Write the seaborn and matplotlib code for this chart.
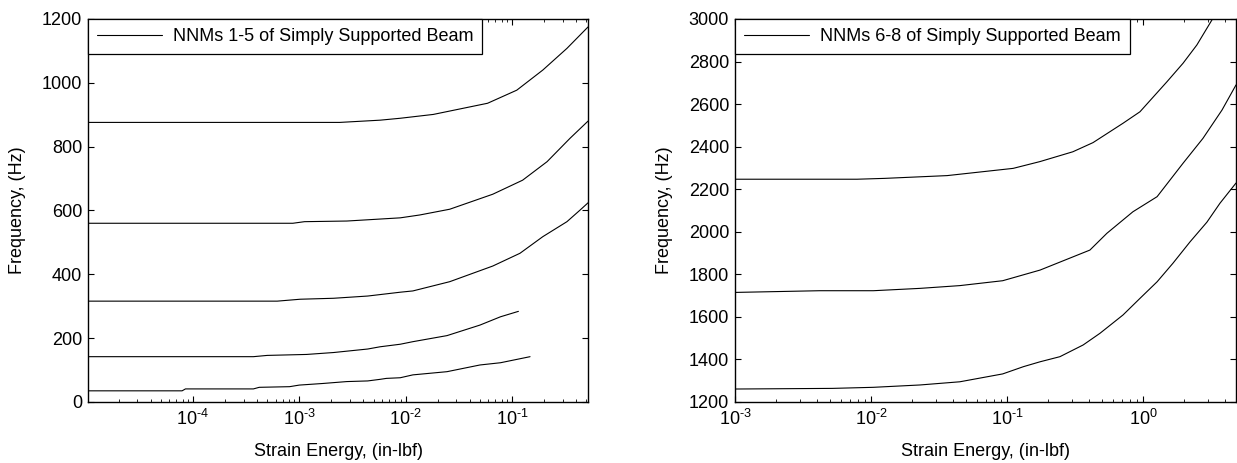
import math
import matplotlib
matplotlib.use("Agg")
import matplotlib.pyplot as plt
import seaborn as sns
from matplotlib.lines import Line2D
from matplotlib.ticker import LogLocator, MultipleLocator, NullFormatter, FuncFormatter

# ---------------- data ----------------
# Left panel: NNMs 1-5
e1 = [1.03e-5, 7.9e-5, 8.5e-5, 3.7e-4, 4.2e-4, 8.1e-4, 1.0e-3, 1.66e-3, 2.8e-3,
      4.4e-3, 5.75e-3, 6.6e-3, 8.9e-3, 1.17e-2, 2.45e-2, 5.0e-2, 7.8e-2, 0.148]
f1 = [35, 35, 41, 41, 46, 48, 53, 58, 64, 66, 71, 74, 76, 85, 95, 116, 123, 142]

e2 = [1.03e-5, 3.7e-4, 5.0e-4, 1.17e-3, 2.1e-3, 4.4e-3, 5.75e-3, 8.9e-3, 1.17e-2,
      2.45e-2, 5.0e-2, 7.8e-2, 0.115]
f2 = [142, 142, 146, 149, 155, 166, 173, 181, 189, 208, 241, 267, 284]

e3 = [1.03e-5, 6.2e-4, 1.02e-3, 2.1e-3, 4.4e-3, 8.9e-3, 1.17e-2, 2.6e-2, 6.6e-2,
      0.119, 0.195, 0.329, 0.436, 0.519]
f3 = [316, 316, 322, 325, 332, 344, 348, 377, 426, 466, 518, 565, 601, 624]

e4 = [1.03e-5, 8.7e-4, 1.12e-3, 2.8e-3, 8.9e-3, 1.36e-2, 2.6e-2, 6.6e-2, 0.126,
      0.214, 0.351, 0.519]
f4 = [560, 560, 565, 567, 577, 586, 604, 651, 695, 753, 826, 880]

e5 = [1.03e-5, 2.4e-3, 5.75e-3, 8.9e-3, 1.82e-2, 5.9e-2, 0.111, 0.195, 0.329, 0.519]
f5 = [876, 876, 883, 889, 901, 936, 977, 1040, 1108, 1175]

# Right panel: NNMs 6-8
e6 = [1.0e-3, 5.2e-3, 1.04e-2, 2.29e-2, 4.5e-2, 9.3e-2, 0.132, 0.175, 0.245, 0.363,
      0.483, 0.713, 0.95, 1.27, 1.66, 2.22, 2.95, 3.68, 4.83]
f6 = [1261, 1264, 1269, 1280, 1295, 1332, 1366, 1389, 1413, 1468, 1523, 1609, 1687,
      1765, 1852, 1953, 2045, 2134, 2229]

e7 = [1.0e-3, 4.2e-3, 1.04e-2, 2.29e-2, 4.5e-2, 9.3e-2, 0.175, 0.407, 0.543, 0.843,
      1.27, 1.97, 2.76, 3.81, 4.83]
f7 = [1715, 1723, 1723, 1734, 1747, 1770, 1820, 1914, 1993, 2094, 2165, 2322, 2439,
      2572, 2690]

e8 = [1.0e-3, 7.9e-3, 1.26e-2, 3.63e-2, 0.111, 0.175, 0.305, 0.429, 0.713, 0.95,
      1.5, 1.97, 2.49, 3.21, 3.3]
f8 = [2247, 2247, 2251, 2264, 2298, 2330, 2376, 2419, 2510, 2564, 2705, 2792, 2878,
      2995, 3010]

left_curves = [(e1, f1), (e2, f2), (e3, f3), (e4, f4), (e5, f5)]
right_curves = [(e6, f6), (e7, f7), (e8, f8)]
left_xticks = [1e-4, 1e-3, 1e-2, 1e-1]
right_xticks = [1e-3, 1e-2, 1e-1, 1e0]
left_label = "NNMs 1-5 of Simply Supported Beam"
right_label = "NNMs 6-8 of Simply Supported Beam"
xlabel = "Strain Energy, (in-lbf)"
ylabel = "Frequency, (Hz)"

# ---------------- style ----------------
sns.set_style("ticks")
plt.rcParams['font.family'] = ['Liberation Sans', 'DejaVu Sans']
plt.rcParams['font.size'] = 13
plt.rcParams['mathtext.fontset'] = 'custom'
plt.rcParams['mathtext.rm'] = 'Liberation Sans'
plt.rcParams['mathtext.it'] = 'Liberation Sans:italic'
plt.rcParams['mathtext.bf'] = 'Liberation Sans:bold'
for k in ['axes.edgecolor', 'xtick.color', 'ytick.color', 'text.color', 'axes.labelcolor']:
    plt.rcParams[k] = 'black'

W, H = 1237, 463
fig = plt.figure(figsize=(W / 100, H / 100), dpi=100)
ax1 = fig.add_axes([88 / W, 61 / H, 500 / W, 383 / H])
ax2 = fig.add_axes([735 / W, 61 / H, 501 / W, 383 / H])


def pow_label(v, pos):
    p = int(round(math.log10(v)))
    if p < 0:
        return r'$\mathdefault{10^{\text{-}%d}}$' % (-p)
    return r'$\mathdefault{10^{%d}}$' % p


def draw(ax, curves, label, xticks, xlim, ylim):
    ax.set_xscale('log')
    for e, f in curves:
        sns.lineplot(x=e, y=f, ax=ax, color='black', lw=0.8, estimator=None,
                     sort=False, legend=False)
    ax.set_xlim(*xlim)
    ax.set_ylim(*ylim)
    ax.yaxis.set_major_locator(MultipleLocator(200))
    ax.set_xticks(xticks)
    ax.xaxis.set_major_formatter(FuncFormatter(pow_label))
    ax.xaxis.set_minor_locator(LogLocator(base=10, subs=range(2, 10), numticks=20))
    ax.xaxis.set_minor_formatter(NullFormatter())
    ax.tick_params(which='both', direction='in', top=True, right=True)
    ax.tick_params(which='major', length=4, width=0.8)
    ax.tick_params(which='minor', length=2.5, width=0.6)
    ax.tick_params(axis='y', pad=4.3)
    ax.tick_params(axis='x', pad=5)
    for s in ax.spines.values():
        s.set_linewidth(1.0)
        s.set_color('black')
    ax.set_xlabel(xlabel, labelpad=10)
    ax.set_ylabel(ylabel, labelpad=11)
    h = [Line2D([0], [0], color='black', lw=0.8)]
    leg = ax.legend(h, [label], loc='upper left', bbox_to_anchor=(0, 1),
                    borderaxespad=0, frameon=True, fancybox=False,
                    edgecolor='black', framealpha=1, handlelength=3.6,
                    handletextpad=0.6, borderpad=0.5, fontsize=13)
    leg.get_frame().set_linewidth(0.9)


draw(ax1, left_curves, left_label, left_xticks, (1.03e-5, 0.519), (0, 1200))
draw(ax2, right_curves, right_label, right_xticks, (1e-3, 4.83), (1200, 3000))

fig.savefig("out.png", dpi=100)
